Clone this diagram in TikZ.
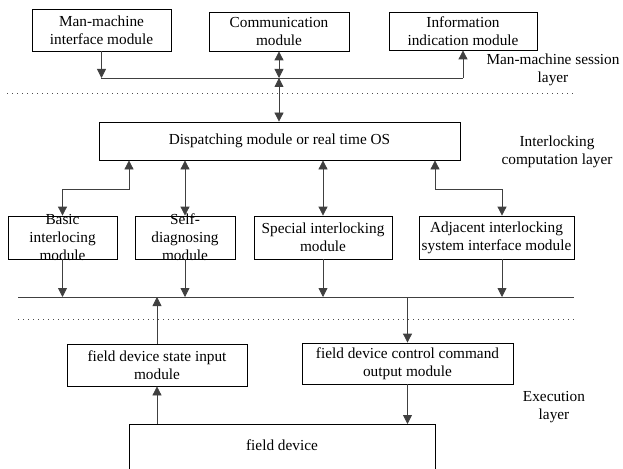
\documentclass[tikz,border=0pt]{standalone}
\usepackage{fontspec}
\setmainfont{Liberation Serif}
\usetikzlibrary{arrows.meta}
\begin{document}
\begin{tikzpicture}[x=1pt,y=-1pt,
  box/.style={draw=black,line width=0.8pt,inner sep=0pt,align=center},
  txt/.style={inner sep=0pt,align=center},
  conn/.style={draw=black!75,line width=0.8pt},
  arr/.style={conn,-{Triangle[length=9pt,width=9pt]}},
  darr/.style={conn,{Triangle[length=9pt,width=9pt]}-{Triangle[length=9pt,width=9pt]}},
  dotline/.style={draw=black!70,line width=1pt,dash pattern=on 1pt off 4pt},
  font=\fontsize{15.3}{18}\selectfont]
\useasboundingbox (0,0) rectangle (623,468);
% top row
\node[box,minimum width=139,minimum height=42] (mmi) at (101.5,30) {Man-machine\\interface module};
\node[box,minimum width=140,minimum height=39] (comm) at (279,31.5) {Communication\\module};
\node[box,minimum width=148,minimum height=38] (info) at (463,31) {Information\\indication module};
\node[txt] (l1) at (553,70) {Man-machine session\\layer};
% bus 1
\coordinate (b1L) at (101,78);
\coordinate (b1R) at (463,78);
\draw[conn] (b1L) -- (b1R);
\draw[arr] (mmi.south) -- (mmi.south |- b1L);
\draw[arr] (info.south |- b1R) -- (info.south);
\draw[darr] (comm.south) -- (comm.south |- b1L);
% dotted line 1
\coordinate (d1L) at (7,94);
\coordinate (d1R) at (573,94);
\draw[dotline] (d1L) -- (d1R);
% dispatching
\node[box,minimum width=361,minimum height=38] (disp) at (279.5,141) {Dispatching module or real time OS};
\draw[darr] (comm.south |- b1L) -- (comm.south |- disp.north);
\node[txt] (l2) at (557,152) {Interlocking\\computation layer};
% module row
\node[box,minimum width=109,minimum height=43] (basic) at (62.5,237.5) {};
\node[txt] (basict) at (basic.center) {Basic\\interlocing\\module};
\node[box,minimum width=100,minimum height=43] (self) at (185,237.5) {};
\node[txt] (selft) at (self.center) {Self-\\diagnosing\\module};
\node[box,minimum width=138,minimum height=43] (special) at (323,237.5) {Special interlocking\\module};
\node[box,minimum width=155,minimum height=43] (adj) at (496.5,237.5) {Adjacent interlocking\\system interface module};
\draw[darr] ([xshift=-150.5pt]disp.south) -- ++(0,29) -| (basic.north);
\draw[darr] (disp.south -| self.north) -- (self.north);
\draw[darr] (disp.south -| special.north) -- (special.north);
\draw[darr] ([xshift=155.5pt]disp.south) -- ++(0,29) -| ([xshift=5.5pt]adj.north);
% bus 2
\coordinate (b2L) at (18,297);
\coordinate (b2R) at (574,297);
\draw[conn] (b2L) -- (b2R);
\draw[arr] (basic.south) -- (basic.south |- b2L);
\draw[arr] (self.south) -- (self.south |- b2L);
\draw[arr] (special.south) -- (special.south |- b2L);
\draw[arr] ([xshift=5.5pt]adj.south) -- ([xshift=5.5pt]adj.south |- b2L);
% dotted line 2
\coordinate (d2L) at (18,319);
\coordinate (d2R) at (574,319);
\draw[dotline] (d2L) -- (d2R);
% execution layer
\node[box,minimum width=180,minimum height=42] (input) at (157,365) {field device state input\\module};
\node[box,minimum width=211,minimum height=41] (output) at (407.5,363.5) {field device control command\\output module};
\draw[arr] (input.north) -- (input.north |- b2L);
\draw[arr] (output.north |- b2L) -- (output.north);
\node[txt] (l3) at (554,407) {Execution\\layer};
\node[box,minimum width=306,minimum height=60,anchor=north] (field) at (282,424) {};
\node[txt] (fieldt) at (282,445) {field device};
\draw[arr] (input.south |- field.north) -- (input.south);
\draw[arr] (output.south) -- (output.south |- field.north);
\end{tikzpicture}
\end{document}
